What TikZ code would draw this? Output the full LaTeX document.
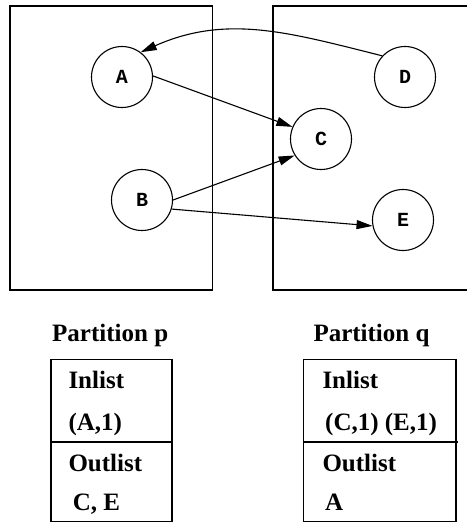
\documentclass[tikz,border=0pt]{standalone}
\usepackage{fontspec}
\setmainfont{Liberation Serif}
\newfontfamily\monobf{Liberation Mono}
\usetikzlibrary{arrows.meta}

\begin{document}
\begin{tikzpicture}[x=1pt,y=-1pt,
  vertex/.style={circle,draw,line width=1.1pt,minimum size=61pt,inner sep=0pt,font=\monobf\bfseries\fontsize{20}{20}\selectfont},
  edge/.style={line width=1.1pt,-{Triangle[length=16pt,width=9pt]}},
  part/.style={line width=1.7pt},
  txt/.style={anchor=base west,inner sep=0pt,font=\bfseries\fontsize{25}{25}\selectfont}]
\useasboundingbox (0,0) rectangle (467,523);
% partitions
\draw[part] (10,6) rectangle (212.5,290);
\draw[part] (467,6) -| (273,290) -- (467,290);
% vertices
\node[vertex] (A) at (122,77) {A};
\node[vertex] (B) at (142,200) {B};
\node[vertex] (C) at (321,139) {C};
\node[vertex] (D) at (405,77) {D};
\node[vertex] (E) at (403,220) {E};
% edges
\draw[edge] (D.137) to[out=166,in=24] (A.53);
\draw[edge] (A.2) -- (C.157);
\draw[edge] (B.0) -- (C.212);
\draw[edge] (B.343) -- (E.191);
% lists
\node[txt] (pp) at (52,341.7) {Partition p};
\node[txt] (pq) at (313.3,341.7) {Partition q};
\draw[line width=1.4pt] (51,359.3) rectangle (172,521.7);
\draw[line width=1.4pt] (51,442) -- (172,442);
\draw[line width=1.4pt] (303.7,359.3) rectangle (456,521.7);
\draw[line width=1.4pt] (303.7,442) -- (457.5,442);
\node[txt] (pin) at (68.3,388) {Inlist};
\node[txt] (pinv) at (68.3,430.7) {(A,1)};
\node[txt] (pout) at (68.3,471.7) {Outlist};
\node[txt] (poutv) at (72.7,510.7) {C, E};
\node[txt] (qin) at (322.3,388) {Inlist};
\node[txt] (qinv) at (325,430.7) {(C,1) (E,1)};
\node[txt] (qout) at (322.3,471.7) {Outlist};
\node[txt] (qoutv) at (325,510.7) {A};
\end{tikzpicture}
\end{document}
